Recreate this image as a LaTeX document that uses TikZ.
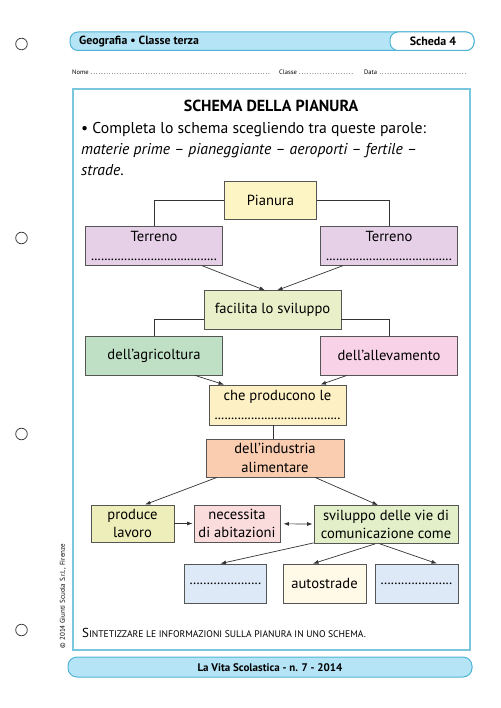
\documentclass[tikz,border=0pt]{standalone}
\usepackage{fontspec}
\setmainfont{PT Sans}
\usetikzlibrary{arrows.meta,positioning,calc}
\definecolor{frameC}{RGB}{122,198,220}
\definecolor{barC}{RGB}{180,228,246}
\definecolor{barLine}{RGB}{80,180,214}
\definecolor{lineC}{RGB}{85,85,85}
\definecolor{pianC}{RGB}{253,246,196}
\definecolor{terrC}{RGB}{230,208,232}
\definecolor{facC}{RGB}{233,239,200}
\definecolor{agriC}{RGB}{192,224,198}
\definecolor{alleC}{RGB}{248,211,232}
\definecolor{prodC}{RGB}{253,240,196}
\definecolor{indC}{RGB}{251,205,176}
\definecolor{lavC}{RGB}{238,238,187}
\definecolor{abitC}{RGB}{251,220,220}
\definecolor{vieC}{RGB}{227,239,201}
\definecolor{vuotoC}{RGB}{221,233,246}
\definecolor{autoC}{RGB}{255,249,232}
\newcommand{\riga}[2][3.3pt]{\makebox[#2]{\xleaders\hbox to #1{\hss.\hss}\hfill}}
\newcommand{\falsoSC}[2]{{\fontsize{13}{13}\selectfont #1}{\fontsize{9.6}{13}\selectfont #2}}

\begin{document}
\begin{tikzpicture}[x=1pt,y=-1pt,
    boxfont/.style={font=\fontsize{14.6}{18.5}\selectfont},
    conn/.style={draw=black!80,line width=0.7pt},
    arr/.style={conn,-{Latex[length=5.5pt,width=4pt]}}]
    \useasboundingbox (0,0) rectangle (500,708);
    % page holes
    \foreach \y in {44,238,434,630}
      \draw[black!75,line width=0.8pt] (21.5,\y) circle[radius=5.8pt];
    % header and footer bars
    \draw[barLine,fill=barC,line width=1pt,rounded corners=8pt] (70,32) rectangle (474,50.5);
    \draw[barLine,fill=white,line width=1pt,rounded corners=8pt] (390,32) rectangle (474,50.5);
    \node[anchor=west,inner sep=0,font=\bfseries\fontsize{11.8}{12}\selectfont] (materia) at (79,41.5) {Geografia • Classe terza};
    \node[inner sep=0,font=\bfseries\fontsize{12}{12}\selectfont] (scheda) at (433,41.5) {Scheda 4};
    \node[anchor=west,inner sep=0,font=\fontsize{6.5}{7}\selectfont] (nome) at (72,72.5) {Nome \riga[2.6pt]{180pt}};
    \node[anchor=west,inner sep=0,font=\fontsize{6.5}{7}\selectfont] (classe) at (279,72.5) {Classe \riga[2.6pt]{55pt}};
    \node[anchor=west,inner sep=0,font=\fontsize{6.5}{7}\selectfont] (data) at (364,72.5) {Data \riga[2.6pt]{88pt}};
    \draw[barLine,fill=barC,line width=1pt,rounded corners=9pt] (68,657) rectangle (472,677);
    \node[inner sep=0,font=\bfseries\fontsize{11}{12}\selectfont] (rivista) at (270,667.5) {La Vita Scolastica - n. 7 - 2014};
    \node[rotate=90,inner sep=0,font=\fontsize{7}{7}\selectfont] (copy) at (63,596) {© 2014 Giunti Scuola S.r.l., Firenze};
    % frame
    \draw[frameC,line width=1.5pt] (73,89) rectangle (470,650);
    \node[inner sep=0,font=\bfseries\fontsize{16}{17}\selectfont] (titolo) at (271,106) {SCHEMA DELLA PIANURA};
    \node[anchor=north west,inner sep=0,align=left,font=\fontsize{15.7}{21}\selectfont] (consegna) at (81,122.5)
      {• Completa lo schema scegliendo tra queste parole:\\
       \textit{materie prime – pianeggiante – aeroporti – fertile –}\\
       \textit{strade}.};
    % boxes
    \foreach \n/\x/\y/\w/\h/\c/\t in {
      pian/270.5/200.5/92/37.5/pianC/Pianura,
      terrL/154/246/137.5/38.5/terrC/{Terreno\\\riga{126pt}},
      terrR/389/246/137.5/38.5/terrC/{Terreno\\\riga{126pt}},
      fac/272.5/310/137/38.5/facC/facilita lo sviluppo,
      agri/154/355.5/137.5/39/agriC/dell’agricoltura,
      alle/389/355.5/137.5/39/alleC/dell’allevamento,
      prod/277.5/405/137/40/prodC/{che producono le\\\riga{126pt}},
      ind/275/458/138/38/indC/{dell’industria\\alimentare},
      lav/132.5/523.5/83/37/lavC/{produce\\lavoro},
      abit/237/523.5/86/37/abitC/{necessita\\di abitazioni},
      vie/386/524.5/144/38/vieC/{sviluppo delle vie di\\comunicazione come},
      vuotoA/225.5/583.5/82.5/39/vuotoC/{\riga{72pt}},
      auto/324.5/583.5/83/39/autoC/autostrade,
      vuotoB/416.5/583.5/83/39/vuotoC/{\riga{72pt}}}
    {
      \node[draw=lineC,fill=\c,line width=0.8pt,minimum width=\w pt,minimum height=\h pt,
        inner sep=1pt,align=center,boxfont] (\n) at (\x,\y) {\t};
    }
    % connectors
    \draw[conn] (pian.west) -| (terrL.north);
    \draw[conn] (pian.east) -| (terrR.north);
    \draw[arr] ([xshift=48pt]terrL.south) -- ([xshift=-7.5pt]fac.north);
    \draw[arr] ([xshift=-46pt]terrR.south) -- ([xshift=4.5pt]fac.north);
    \draw[conn] ([yshift=-9pt]fac.west) -| (agri.north);
    \draw[conn] ([yshift=-9pt]fac.east) -| (alle.north);
    \draw[arr] ([xshift=41pt]agri.south) -- ([xshift=-53.5pt]prod.north);
    \draw[arr] ([xshift=-42pt]alle.south) -- ([xshift=43pt]prod.north);
    \draw[conn] ([xshift=-2pt]ind.north) -- ([xshift=-2pt]ind.north |- prod.south);
    \draw[arr] ([xshift=-58pt]ind.south) -- ([xshift=12.5pt]lav.north);
    \draw[arr] ([xshift=40pt]ind.south) -- ([xshift=-8pt]vie.north);
    \draw[arr,shorten >=1pt] (lav) -- (abit);
    \draw[arr,{Latex[length=5.5pt,width=4pt]}-{Latex[length=5.5pt,width=4pt]},shorten <=3pt,shorten >=1pt] (abit) -- (vie);
    \draw[arr] ([yshift=1pt]vie.south west) -- ([xshift=-5pt]vuotoA.north);
    \draw[arr] ([xshift=-11pt]vie.south) -- ([xshift=-11.5pt]auto.north);
    \draw[arr] ([xshift=-6pt]vie.south) -- ([xshift=20.5pt]vuotoB.north);
    \node[anchor=west,inner sep=0] (sintesi) at (82,633)
      {\falsoSC{S}{INTETIZZARE} \falsoSC{}{LE INFORMAZIONI SULLA PIANURA IN UNO SCHEMA.}};
  \end{tikzpicture}
\end{document}
